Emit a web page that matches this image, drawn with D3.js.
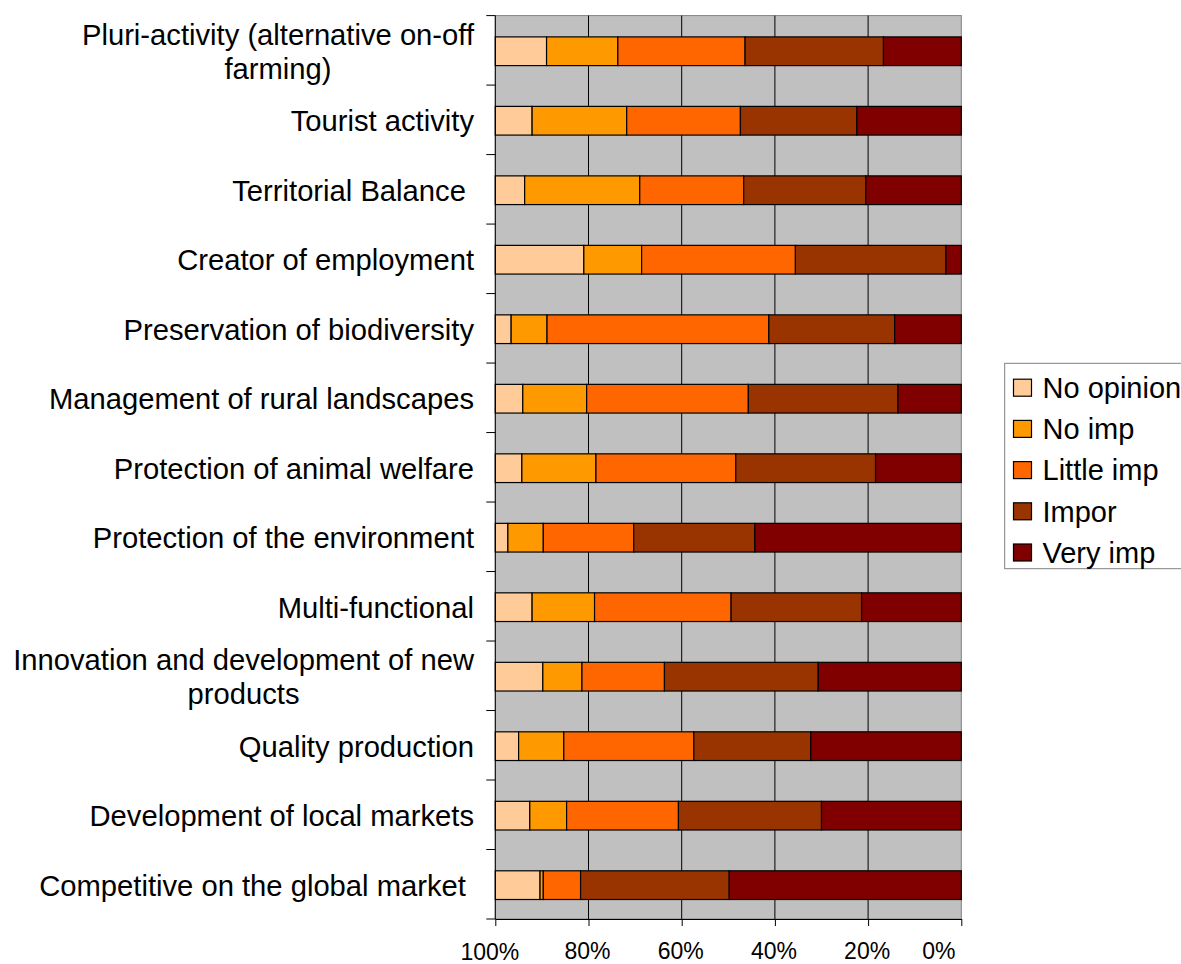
<!DOCTYPE html>
<html>
<head>
<meta charset="utf-8">
<script src="https://cdn.jsdelivr.net/npm/d3@7"></script>
<style>
  html, body { margin: 0; padding: 0; background: #fff; }
  svg { display: block; font-family: "Liberation Sans", Arial, sans-serif; }
  .cat-label { white-space: pre; }
</style>
</head>
<body>
<svg id="chart" width="1181" height="964"></svg>
<script>
// Perceived importance of each farm function (% of respondents)
const categories = [
  "Pluri-activity (alternative on-off farming)",
  "Tourist activity",
  "Territorial Balance ",
  "Creator of employment",
  "Preservation of biodiversity",
  "Management of rural landscapes",
  "Protection of animal welfare",
  "Protection of the environment",
  "Multi-functional",
  "Innovation and development of new products",
  "Quality production",
  "Development of local markets",
  "Competitive on the global market "
];
const seriesNames = ["No opinion", "No imp", "Little imp", "Impor", "Very imp"];
const noOpinion = [11.0, 7.9, 6.3, 19.0, 3.4, 5.9, 5.7, 2.7, 7.9, 10.2, 5.0, 7.4, 9.6];
const noImp     = [15.3, 20.3, 24.7, 12.4, 7.7, 13.7, 15.9, 7.6, 13.4, 8.4, 9.7, 7.9, 0.7];
const littleImp = [27.3, 24.4, 22.3, 33.0, 47.6, 34.7, 30.0, 19.4, 29.3, 17.7, 27.9, 24.0, 8.0];
const impor     = [29.7, 25.0, 26.2, 32.3, 27.0, 32.1, 30.0, 26.0, 28.0, 33.0, 25.1, 30.7, 31.9];
const veryImp   = [16.7, 22.4, 20.5, 3.3, 14.3, 13.6, 18.4, 44.3, 21.4, 30.7, 32.3, 30.0, 49.8];
const xTicks = [100, 80, 60, 40, 20, 0];
const colors = ["#FFCC99", "#FF9900", "#FF6600", "#993300", "#800000"];

const rows = categories.map((c, i) => ({
  category: c,
  "No opinion": noOpinion[i],
  "No imp": noImp[i],
  "Little imp": littleImp[i],
  "Impor": impor[i],
  "Very imp": veryImp[i]
}));

const svg = d3.select("#chart");
const plotLeft = 495.3, plotRight = 961.3, plotTop = 15.6, plotBottom = 919;
const pad = 0.587;

const x = d3.scaleLinear().domain([100, 0]).range([plotLeft, plotRight]);
const y = d3.scaleBand().domain(categories).range([plotTop, plotBottom])
  .paddingInner(pad).paddingOuter(pad / 2);
const color = d3.scaleOrdinal().domain(seriesNames).range(colors);

// plot background
svg.append("rect")
  .attr("x", plotLeft).attr("y", plotTop)
  .attr("width", plotRight - plotLeft).attr("height", plotBottom - plotTop)
  .attr("fill", "#C0C0C0")
  .attr("stroke", "#808080").attr("stroke-width", 1);

// vertical gridlines
svg.append("g").selectAll("line")
  .data(xTicks.filter(d => d !== 100 && d !== 0))
  .join("line")
  .attr("x1", d => x(d)).attr("x2", d => x(d))
  .attr("y1", plotTop).attr("y2", plotBottom)
  .attr("stroke", "#000").attr("stroke-width", 1);

// stacked bars, accumulated from the 100% side
const stack = d3.stack().keys(seriesNames)(rows);
const barShift = 0.9;
svg.append("g").selectAll("g")
  .data(stack)
  .join("g")
  .attr("fill", d => color(d.key))
  .selectAll("rect")
  .data(d => d)
  .join("rect")
  .attr("x", d => x(100 - d[0]))
  .attr("width", d => x(100 - d[1]) - x(100 - d[0]))
  .attr("y", d => y(d.data.category) + barShift)
  .attr("height", y.bandwidth())
  .attr("stroke", "#000").attr("stroke-width", 1.2);

// category axis
const step = y.step();
const boundaries = categories.map(c => y(c) - step * pad / 2).concat([plotBottom]);
const yAxis = svg.append("g");
yAxis.append("line")
  .attr("x1", plotLeft).attr("x2", plotLeft).attr("y1", plotTop).attr("y2", plotBottom)
  .attr("stroke", "#000");
yAxis.selectAll("line.tick")
  .data(boundaries)
  .join("line").attr("class", "tick")
  .attr("x1", plotLeft - 9).attr("x2", plotLeft)
  .attr("y1", d => d).attr("y2", d => d)
  .attr("stroke", "#000");

// category labels, wrapped to a maximum width and centred as a block
const labelRight = 474, maxWidth = 470, fontSize = 29.2, lineGap = 34;
const labels = svg.append("g")
  .attr("font-size", fontSize).attr("fill", "#000");
categories.forEach(c => {
  const cy = y(c) + barShift + y.bandwidth() / 2;
  const words = c.split(" ");
  const lines = [];
  let cur = [];
  const probe = labels.append("text").attr("class", "cat-label");
  words.forEach(w => {
    const trial = cur.concat([w]).join(" ");
    probe.text(trial);
    if (w !== "" && probe.node().getComputedTextLength() > maxWidth && cur.length) {
      lines.push(cur.join(" "));
      cur = [w];
    } else {
      cur.push(w);
    }
  });
  lines.push(cur.join(" "));
  probe.text(lines[0]);
  const w0 = probe.node().getComputedTextLength();
  probe.remove();
  const capHalf = fontSize * 0.716 / 2;
  const firstBase = cy + capHalf - (lines.length - 1) * lineGap / 2;
  lines.forEach((ln, k) => {
    labels.append("text")
      .attr("class", "cat-label")
      .attr("x", labelRight - w0 / 2)
      .attr("y", firstBase + k * lineGap)
      .attr("text-anchor", "middle")
      .text(ln);
  });
});

// percentage axis
const xAxis = svg.append("g")
  .attr("transform", `translate(0,${plotBottom})`)
  .call(d3.axisBottom(x).tickValues(xTicks).tickFormat(d => d + "%").tickSize(7).tickSizeOuter(0));
xAxis.select(".domain").attr("stroke", "#000");
xAxis.selectAll(".tick line").attr("stroke", "#000");
xAxis.selectAll(".tick text")
  .attr("dy", null).attr("y", 40).attr("x", -1.5)
  .attr("font-size", 23).attr("font-family", "\"Liberation Sans\", Arial, sans-serif")
  .attr("fill", "#000");
xAxis.selectAll(".tick text").filter(d => d === 100).attr("x", -6).attr("y", 40.5);
xAxis.selectAll(".tick text").filter(d => d === 0).attr("x", -23);

// legend
const legend = svg.append("g");
const lgTop = 363.3, lgRow = 41.2, lgFirst = 387.7;
legend.append("rect")
  .attr("x", 1004.7).attr("y", lgTop).attr("width", 220).attr("height", 205.4)
  .attr("fill", "#fff").attr("stroke", "#808080").attr("stroke-width", 1);
const items = legend.selectAll("g.item")
  .data(seriesNames)
  .join("g").attr("class", "item")
  .attr("transform", (d, i) => `translate(0,${lgFirst + i * lgRow})`);
items.append("rect")
  .attr("x", 1013.5).attr("y", -8.5).attr("width", 18).attr("height", 17)
  .attr("fill", d => color(d)).attr("stroke", "#000").attr("stroke-width", 1.2);
items.append("text")
  .attr("x", 1042.5).attr("y", 29 * 0.716 / 2)
  .attr("font-size", 29).attr("fill", "#000")
  .text(d => d);
</script>
</body>
</html>
